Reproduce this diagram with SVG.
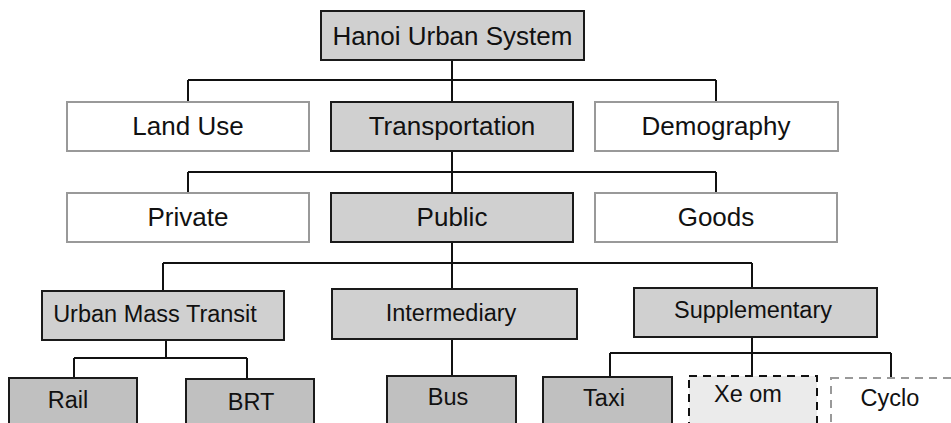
<svg xmlns="http://www.w3.org/2000/svg" width="951" height="423" viewBox="0 0 951 423">
<style>
.g{fill:#d0d0d0;stroke:#1a1a1a;stroke-width:2}
.w{fill:#fff;stroke:#999;stroke-width:2}
.d{fill:#c0c0c0;stroke:#1a1a1a;stroke-width:2}
.xe{fill:#ebebeb;stroke:#111;stroke-width:2;stroke-dasharray:8,6}
.cy{fill:#fff;stroke:#999;stroke-width:2;stroke-dasharray:8,6}
text{font-family:"Liberation Sans",Arial,sans-serif;fill:#111;text-anchor:middle}
.t1{font-size:26px}
.t2{font-size:23.5px}
#connectors path{fill:none;stroke:#111;stroke-width:2}
</style>
<rect width="951" height="423" fill="#fff"/>
<g id="connectors">
<path d="M452 60V102M188 80H716M188 80V102M716 80V102"/>
<path d="M452 151V193M188 172H716M188 172V193M716 172V193"/>
<path d="M452 242V289M163 263H752M163 263V291M752 263V288"/>
<path d="M166 340V358M74 358H247M74 358V378M247 358V379"/>
<path d="M452 339V376"/>
<path d="M752 337V377M610 353H891M610 353V377M891 353V378"/>
</g>
<g id="n-hanoi"><rect class="g" x="321" y="11" width="263" height="49"/><text class="t1" x="452.5" y="44.5">Hanoi Urban System</text></g>
<g id="n-landuse"><rect class="w" x="67" y="102" width="242" height="49"/><text class="t1" x="188" y="135">Land Use</text></g>
<g id="n-transportation"><rect class="g" x="331" y="102" width="242" height="49"/><text class="t1" x="452" y="135">Transportation</text></g>
<g id="n-demography"><rect class="w" x="595" y="102" width="243" height="49"/><text class="t1" x="716" y="135">Demography</text></g>
<g id="n-private"><rect class="w" x="67" y="193" width="242" height="49"/><text class="t1" x="188" y="226">Private</text></g>
<g id="n-public"><rect class="g" x="331" y="193" width="242" height="49"/><text class="t1" x="452" y="226">Public</text></g>
<g id="n-goods"><rect class="w" x="595" y="193" width="242" height="49"/><text class="t1" x="716" y="226">Goods</text></g>
<g id="n-umt"><rect class="g" x="42" y="291" width="242" height="49"/><text class="t2" x="155" y="322">Urban Mass Transit</text></g>
<g id="n-intermediary"><rect class="g" x="332" y="289" width="245" height="50"/><text class="t2" x="451" y="321">Intermediary</text></g>
<g id="n-supplementary"><rect class="g" x="634" y="288" width="243" height="49"/><text class="t2" x="753" y="318">Supplementary</text></g>
<g id="n-rail"><rect class="d" x="9" y="378" width="128" height="60"/><text class="t2" x="68" y="408">Rail</text></g>
<g id="n-brt"><rect class="d" x="186" y="379" width="128" height="60"/><text class="t2" x="251" y="410">BRT</text></g>
<g id="n-bus"><rect class="d" x="387" y="376" width="129" height="60"/><text class="t2" x="448" y="405">Bus</text></g>
<g id="n-taxi"><rect class="d" x="543" y="377" width="129" height="60"/><text class="t2" x="604" y="406">Taxi</text></g>
<g id="n-xeom"><rect class="xe" x="689" y="376" width="128" height="60"/><text class="t2" x="748" y="402">Xe om</text></g>
<g id="n-cyclo"><rect class="cy" x="831" y="378" width="130" height="60"/><text class="t2" x="890" y="406">Cyclo</text></g>
</svg>
